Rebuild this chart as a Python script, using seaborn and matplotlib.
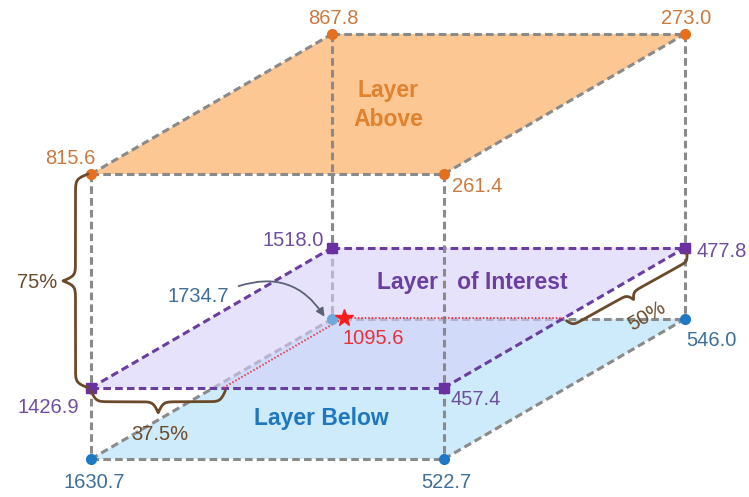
import numpy as np
import matplotlib
matplotlib.use("Agg")
import matplotlib.pyplot as plt
import seaborn as sns
from matplotlib.patches import Polygon, FancyArrowPatch

# values at the corners: front-left, front-right, back-left, back-right
above_vals = [815.6, 261.4, 867.8, 273.0]
interest_vals = [1426.9, 457.4, 1518.0, 477.8]
below_vals = [1630.7, 522.7, 1734.7, 546.0]
star_val = 1095.6

# interpolation fractions (percent)
pct_vertical = 75
pct_front = 37.5
pct_depth = 50

layer_names = ["Layer\nAbove", "Layer   of Interest", "Layer Below"]

sns.set_style("white")
plt.rcParams["font.family"] = ["Liberation Sans", "DejaVu Sans"]
plt.rcParams["lines.scale_dashes"] = False

# drawing geometry (pixel space)
x0, W = 91, 353
ddx, ddy = 241, -140
y_above, y_below = 174, 459
y_int = y_above + pct_vertical / 100 * (y_below - y_above)


def corners(y):
    return np.array([[x0, y], [x0 + W, y], [x0 + ddx, y + ddy], [x0 + W + ddx, y + ddy]])


ca, ci, cb = corners(y_above), corners(y_int), corners(y_below)
order = [0, 1, 3, 2]

gray = "#8a8a8a"
purple = "#6a3ea1"
dash = (0, (5.5, 3))

fig = plt.figure(figsize=(7.49, 4.97), dpi=100)
ax = fig.add_axes([0, 0, 1, 1])
ax.set_xlim(0, 749)
ax.set_ylim(497, 0)
ax.axis("off")

# lower layer
ax.add_patch(Polygon(cb[order], closed=True, facecolor="#cdebfb", edgecolor="none", zorder=1))
for a, b in [(0, 1), (0, 2), (1, 3), (2, 3)]:
    ax.plot(*zip(cb[a], cb[b]), color=gray, lw=2.2, ls=dash, zorder=2)
# hidden vertical behind the layer of interest
ax.plot([cb[2][0]] * 2, [ca[2][1], cb[2][1]], color=gray, lw=2.2, ls=dash, zorder=2)

# layer of interest
ax.add_patch(Polygon(ci[order], closed=True, facecolor="#d6cffa", edgecolor="none", alpha=0.6, zorder=3))
for a, b in [(0, 1), (0, 2), (1, 3), (2, 3)]:
    ax.plot(*zip(ci[a], ci[b]), color=purple, lw=2.2, ls=dash, zorder=4)

# layer above
ax.add_patch(Polygon(ca[order], closed=True, facecolor="#fcc793", edgecolor="none", zorder=3))
for a, b in [(0, 1), (0, 2), (1, 3), (2, 3)]:
    ax.plot(*zip(ca[a], ca[b]), color=gray, lw=2.2, ls=dash, zorder=4)

# vertical edges
for k in [0, 1, 3]:
    ax.plot([ca[k][0]] * 2, [ca[k][1], cb[k][1]], color=gray, lw=2.2, ls=dash, zorder=4)
ax.plot([ca[2][0]] * 2, [ca[2][1], ci[2][1]], color=gray, lw=2.2, ls=dash, zorder=4)

# interpolation lines and star
p_front = ci[0] + pct_front / 100 * (ci[1] - ci[0])
star = p_front + pct_depth / 100 * (ci[2] - ci[0])
p_right = ci[1] + pct_depth / 100 * (ci[3] - ci[1])
red = "#e8303a"
ax.plot(*zip(p_front, star), color=red, lw=1.4, ls=(0, (1, 1.5)), zorder=5)
ax.plot(*zip(star, p_right), color=red, lw=1.4, ls=(0, (1, 1.5)), zorder=5)

# markers
ax.plot(ca[:, 0], ca[:, 1], "o", color="#e2701f", ms=7, zorder=6, ls="none")
ax.plot(ci[:, 0], ci[:, 1], "s", color="#6a2fa0", ms=7, zorder=6, ls="none")
ax.plot(cb[[0, 1, 3], 0], cb[[0, 1, 3], 1], "o", color="#1f78c4", ms=7, zorder=6, ls="none")
ax.plot(cb[2, 0], cb[2, 1], "o", color="#6fa8dc", ms=7, zorder=6)
ax.plot(star[0], star[1], "*", color="#ff1a1a", ms=13, zorder=7)

# value labels
fs = 14.5
c_top, c_mid, c_low = "#c97b3f", "#6e4e9c", "#3d6f99"
off_top = [(-21, -16), (33, 13), (1, -16), (1, -16)]
off_mid = [(-43, 20), (32, 12), (-39, -7), (37, 4)]
off_low = [(3, 24), (2, 24), (-134, -23), (26, 21)]
for (x, y), v, (ox, oy) in zip(ca, above_vals, off_top):
    ax.text(x + ox, y + oy, f"{v:.1f}", color=c_top, fontsize=fs, ha="center", va="center", zorder=8)
for (x, y), v, (ox, oy) in zip(ci, interest_vals, off_mid):
    ax.text(x + ox, y + oy, f"{v:.1f}", color=c_mid, fontsize=fs, ha="center", va="center", zorder=8)
for (x, y), v, (ox, oy) in zip(cb, below_vals, off_low):
    ax.text(x + ox, y + oy, f"{v:.1f}", color=c_low, fontsize=fs, ha="center", va="center", zorder=8)
ax.text(star[0] + 29, star[1] + 21, f"{star_val:.1f}", color=red, fontsize=fs, ha="center", va="center", zorder=8)

# arrow from the hidden corner label
ax.add_patch(FancyArrowPatch((236, 287), (cb[2][0] - 6, cb[2][1]), connectionstyle="arc3,rad=-0.4",
                             arrowstyle="-|>", mutation_scale=12, color="#5b6275", lw=1.3, zorder=8))

# layer names
ax.text(388, 105, layer_names[0], color="#e0822e", fontsize=16.5, fontweight="bold",
        ha="center", va="center", linespacing=1.3, zorder=8)
ax.text(472, 283, layer_names[1], color="#6b3fa0", fontsize=16.5, fontweight="bold",
        ha="center", va="center", zorder=8)
ax.text(321, 419, layer_names[2], color="#1f78be", fontsize=16.5, fontweight="bold",
        ha="center", va="center", zorder=8)


# curly braces
def brace(p1, p2, width, beta=0.4, color="#6b4a2b", lw=2):
    p1, p2 = np.asarray(p1, float), np.asarray(p2, float)
    d = p2 - p1
    L = np.hypot(*d)
    t_hat = d / L
    n_hat = -np.array([t_hat[1], -t_hat[0]])
    half = np.linspace(0, L / 2, 200)
    yh = 1 / (1 + np.exp(-beta * (half - half[0]))) + 1 / (1 + np.exp(-beta * (half - half[-1])))
    u = np.concatenate([yh, yh[-2::-1]]) - 0.5
    t = np.concatenate([half, L - half[-2::-1]])
    pts = p1 + np.outer(t, t_hat) + np.outer(u * width, n_hat)
    ax.plot(pts[:, 0], pts[:, 1], color=color, lw=lw, zorder=8, solid_capstyle="round")


brace((88, ca[0][1]), (88, ci[0][1]), 25)
brace((ci[0][0], ci[0][1] + 3), (p_front[0] + 2, p_front[1] + 3), 22)
brace((p_right[0] + 2, p_right[1] + 3), (ci[3][0] + 2, ci[3][1] + 6), 14, beta=0.55)

brown = "#6b4a2b"
ax.text(37, 283, f"{pct_vertical}%", color=brown, fontsize=fs, ha="center", va="center", zorder=8)
ax.text(160, 435, f"{pct_front}%", color=brown, fontsize=fs, ha="center", va="center", zorder=8)
ax.text(647, 316, f"{pct_depth}%", color=brown, fontsize=fs, ha="center", va="center", rotation=30, zorder=8)

fig.savefig("out.png", dpi=100)
